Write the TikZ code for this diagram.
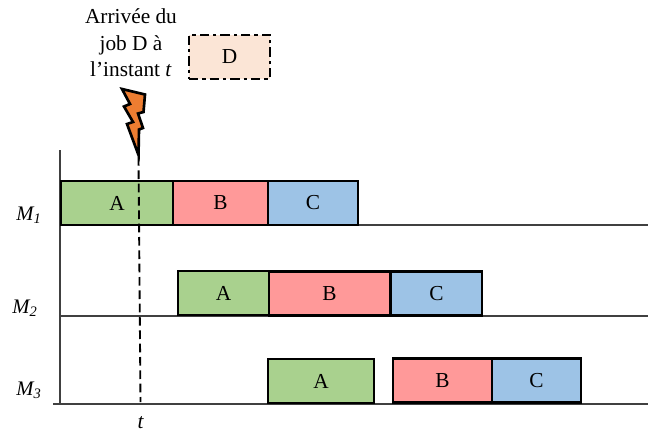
\documentclass[tikz,border=0pt]{standalone}
\usepackage{fontspec}
\setmainfont{Liberation Serif}
\definecolor{jobgreen}{HTML}{A9D18E}
\definecolor{jobred}{HTML}{FF9999}
\definecolor{jobblue}{HTML}{9DC3E6}
\definecolor{jobpeach}{HTML}{FBE5D6}
\definecolor{boltorange}{HTML}{ED7D31}
\tikzset{
	jobbox/.style={draw=black, line width=2pt, inner sep=0pt, minimum height=33pt},
	axisline/.style={draw=black!75, line width=0.9pt},
	machlabel/.style={font=\fontsize{15.5}{18}\selectfont\itshape}
}

\begin{document}
\begin{tikzpicture}[x=0.75pt, y=-0.75pt, line cap=butt, line join=miter, font=\fontsize{16}{20}\selectfont]
\useasboundingbox (0,0) rectangle (648,432);
%========================
% Axes
%========================
\coordinate (origin) at (60,404);
\coordinate (top) at (60,150);
\coordinate (left3) at (53,404);
\coordinate (right1) at (648,225);
\coordinate (right2) at (648,316);
\coordinate (right3) at (648,404);
\coordinate (start1) at (60,225);
\coordinate (start2) at (60,316);
\draw[axisline] (top) -- (origin);
\draw[axisline] (start1) -- (right1);
\draw[axisline] (start2) -- (right2);
\draw[axisline] (left3) -- (right3);

\node[machlabel] (m1) at (29,215) {M\textsubscript{1}};
\node[machlabel] (m2) at (25,308) {M\textsubscript{2}};
\node[machlabel] (m3) at (29,390) {M\textsubscript{3}};

%========================
% Jobs on each machine
%========================
% M1
\node[jobbox, fill=jobgreen, minimum width=84pt] (a1) at (117,203) {A};
\node[jobbox, fill=jobred, minimum width=71.25pt] (b1) at (220.5,203) {B};
\node[jobbox, fill=jobblue, minimum width=67.5pt] (c1) at (313,203) {C};
% M2
\node[jobbox, fill=jobgreen, minimum width=68.25pt] (a2) at (223.5,293) {A};
\node[jobbox, fill=jobred, minimum width=90.75pt] (b2) at (329.5,293.5) {B};
\node[jobbox, fill=jobblue, minimum width=68.25pt] (c2) at (436.5,293.5) {C};
% M3
\node[jobbox, fill=jobgreen, minimum width=79.5pt] (a3) at (321,381) {A};
\node[jobbox, fill=jobred, minimum width=74.25pt] (b3) at (442.5,380.5) {B};
\node[jobbox, fill=jobblue, minimum width=66.75pt] (c3) at (536.5,380.5) {C};

%========================
% Arrival of job D
%========================
\coordinate (ttop) at (138.5,157);
\coordinate (tbottom) at (140.5,402);
\draw[black, line width=1.4pt, dash pattern=on 6.5pt off 3.5pt] (ttop) -- (tbottom);
\node[inner sep=0pt] (tlabel) at (140.5,423) {\itshape t};

% lightning bolt
\draw[black, line width=2pt, fill=boltorange]
	(122,89) -- (145,94.5) -- (143.5,112) -- (138,113.5) -- (143,128) -- (139,129.5) -- (138.5,155)
	-- (127,124) -- (133,122) -- (124,106.5) -- (130,104) -- cycle;

\node[align=center] (arrival) at (131,43) {Arrivée du\\job D à\\l’instant \textit{t}};
\node[jobbox, fill=jobpeach, minimum width=60.75pt, dash pattern=on 7pt off 3pt on 2.5pt off 3pt] (d) at (229.5,57) {D};
\end{tikzpicture}
\end{document}
